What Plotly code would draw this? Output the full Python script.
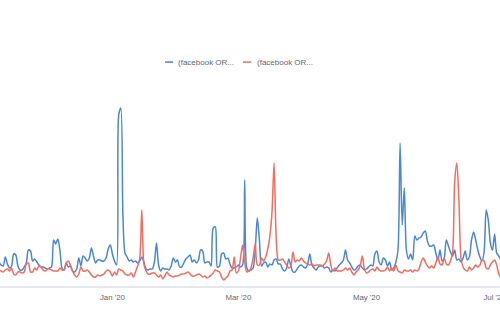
import pandas as pd
import plotly.graph_objects as go

# Daily mention counts for the two saved searches
start_date = "2019-11-08"
series_names = ["(facebook OR...", "(facebook OR..."]
series_colors = ["#4a86d9", "#f76b5c"]

blue_counts = [
    24, 21, 20, 29, 22, 18, 20, 32, 31, 20, 16, 16, 19, 23, 36, 35, 25, 27, 24, 21,
    19, 19, 18, 17, 18, 19, 46, 42, 47, 36, 18, 16, 23, 19, 20, 15, 14, 17, 28, 20,
    30, 28, 25, 28, 38, 30, 23, 26, 26, 25, 25, 28, 37, 41, 32, 25, 21, 171, 178, 71,
    33, 29, 25, 26, 24, 25, 23, 25, 29, 24, 17, 16, 17, 17, 24, 43, 21, 15, 18, 17,
    17, 16, 20, 28, 24, 26, 19, 19, 23, 27, 29, 31, 24, 26, 23, 26, 36, 35, 23, 24,
    24, 20, 58, 59, 19, 20, 32, 33, 27, 28, 22, 18, 18, 19, 21, 19, 21, 106, 18, 15,
    16, 18, 36, 68, 46, 20, 23, 24, 19, 22, 21, 26, 27, 22, 22, 17, 15, 18, 27, 20,
    14, 14, 17, 20, 21, 19, 18, 22, 32, 21, 18, 16, 19, 20, 20, 18, 19, 18, 14, 16,
    15, 18, 21, 23, 26, 36, 26, 23, 19, 16, 17, 20, 21, 18, 16, 17, 19, 21, 20, 32,
    35, 24, 21, 28, 26, 20, 24, 16, 18, 24, 36, 143, 61, 98, 36, 27, 32, 26, 50, 46,
    48, 49, 53, 55, 45, 40, 40, 41, 33, 26, 36, 25, 28, 46, 40, 34, 30, 36, 26, 27,
    24, 28, 35, 26, 29, 46, 54, 46, 36, 29, 25, 34, 76, 66, 43, 36, 52, 33, 30, 26,
]

red_counts = [
    16, 15, 14, 16, 17, 15, 18, 12, 11, 14, 14, 13, 14, 22, 23, 14, 14, 18, 16, 20,
    19, 16, 15, 17, 17, 16, 15, 15, 15, 18, 16, 16, 23, 25, 21, 15, 11, 9, 12, 19,
    15, 15, 16, 14, 11, 9, 9, 11, 10, 11, 12, 15, 16, 14, 10, 14, 11, 17, 16, 15,
    12, 11, 11, 13, 9, 14, 20, 27, 76, 22, 15, 12, 12, 13, 13, 11, 9, 11, 7, 10,
    14, 11, 10, 9, 10, 10, 11, 12, 12, 13, 14, 12, 10, 10, 11, 12, 11, 9, 10, 8,
    9, 11, 13, 16, 15, 14, 9, 6, 8, 10, 15, 16, 29, 13, 15, 28, 41, 24, 14, 15,
    18, 28, 42, 21, 21, 28, 25, 29, 37, 50, 74, 123, 48, 26, 26, 27, 24, 21, 18, 20,
    34, 24, 26, 25, 28, 25, 23, 22, 21, 22, 20, 21, 21, 21, 20, 22, 25, 33, 21, 15,
    18, 15, 15, 15, 16, 18, 16, 18, 14, 11, 14, 16, 20, 30, 17, 13, 14, 16, 17, 15,
    19, 16, 15, 15, 16, 19, 15, 18, 15, 21, 15, 14, 13, 16, 15, 15, 16, 14, 16, 15,
    17, 24, 28, 24, 20, 18, 20, 18, 23, 29, 22, 21, 28, 22, 21, 25, 34, 104, 123, 86,
    28, 19, 16, 15, 19, 16, 18, 21, 19, 21, 26, 25, 18, 17, 21, 24, 26, 21, 12, 8,
]

tick_start = "2020-01-01"
tick_format = "%b '%y"

dates = pd.date_range(start_date, periods=len(blue_counts), freq="D")

fig = go.Figure()
for name, color, values in zip(series_names, series_colors, [blue_counts, red_counts]):
    fig.add_trace(go.Scatter(
        x=dates, y=values, name=name, mode="lines",
        line=dict(color=color, width=1.5, shape="spline", smoothing=0.8),
        showlegend=False, hoverinfo="skip",
    ))

# Compact legend across the top
legend_y = 1.087
legend_items = [(0.330, 0.352), (0.486, 0.510)]
for (x0, xt), name, color in zip(legend_items, series_names, series_colors):
    fig.add_shape(type="line", xref="paper", yref="paper",
                  x0=x0, x1=x0 + 0.016, y0=legend_y, y1=legend_y,
                  line=dict(color=color, width=1.5))
    fig.add_annotation(xref="paper", yref="paper", x=xt, y=legend_y,
                       text=name, showarrow=False, xanchor="left", yanchor="middle",
                       font=dict(size=8, color="#5f6670",
                                 family="Liberation Sans, Arial, sans-serif"))

fig.update_layout(
    width=500, height=330,
    margin=dict(l=0, r=0, t=80, b=44, autoexpand=False),
    paper_bgcolor="white", plot_bgcolor="white",
    font=dict(family="Liberation Sans, Arial, sans-serif", size=8, color="#666666"),
    xaxis=dict(
        type="date",
        range=["2019-11-08 11:25", "2020-07-03 13:40"],
        tick0=tick_start, dtick="M2", tickformat=tick_format,
        showgrid=False, zeroline=False, ticks="",
        automargin=False,
        ticklabeloverflow="allow", ticklabelstandoff=3,
        showline=True, linecolor="#e4e8ee", linewidth=1.5,
        tickfont=dict(size=7.8, color="#5f6670"),
        fixedrange=True,
    ),
    yaxis=dict(range=[0, 206], visible=False, showgrid=False, zeroline=False,
               fixedrange=True),
)

fig.write_html("out.html")
